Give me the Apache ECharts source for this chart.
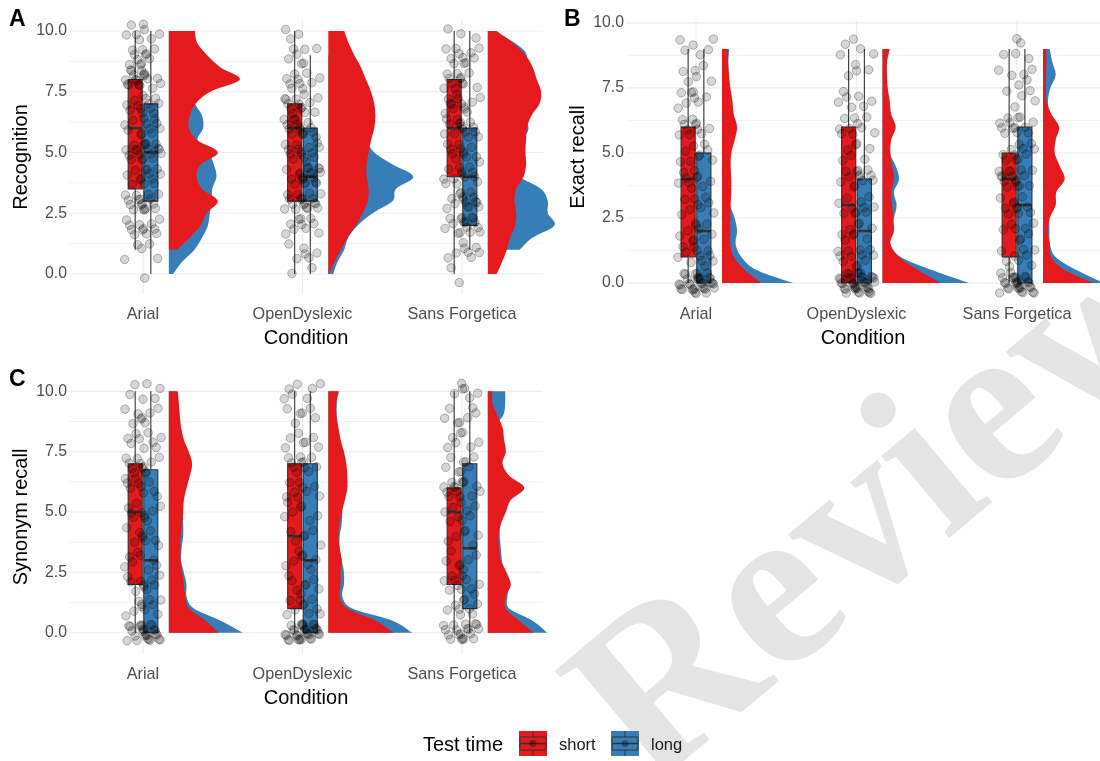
<!DOCTYPE html>
<html>
<head>
<meta charset="utf-8">
<title>Raincloud plots by condition and test time</title>
<script src="https://cdn.jsdelivr.net/npm/echarts@6/dist/echarts.min.js"></script>
<style>
  html, body { margin: 0; padding: 0; background: #fff; }
  #chart { width: 1100px; height: 761px; }
</style>
</head>
<body>
<div id="chart"></div>
<script>
// ---- data ----
var conditions = ["Arial", "OpenDyslexic", "Sans Forgetica"];
var testTimes = ["short", "long"];
var panelLetters = ["A", "B", "C"];
var measureTitles = ["Recognition", "Exact recall", "Synonym recall"];
var yTickValues = [0, 2.5, 5, 7.5, 10];
var yMinorValues = [1.25, 3.75, 6.25, 8.75];
var scoreValues = [0, 1, 2, 3, 4, 5, 6, 7, 8, 9, 10];
var densityAt = [0, 0.5, 1, 1.5, 2, 2.5, 3, 3.5, 4, 4.5, 5, 5.5, 6, 6.5, 7, 7.5, 8, 8.5, 9, 9.5, 10];

// A: Recognition  (counts per score 0..10, per condition)
var recCountShort = [[0,2,6,9,5,9,4,5,13,7,5], [1,3,5,8,6,7,10,9,7,5,3], [2,3,5,5,6,7,7,9,9,6,2]];
var recCountLong  = [[1,3,6,8,8,10,8,8,5,4,3], [1,3,5,11,14,8,6,5,3,2,0], [0,5,11,10,7,5,8,4,3,5,1]];
// box stats: lower whisker, Q1, median, Q3, upper whisker
var recBoxShort = [[1,3.5,6,8,10], [0,3,6,7,10], [0,4,6,8,10]];
var recBoxLong  = [[0,3,5,7,10], [0,3,4,6,9], [1,2,4,6,10]];
// half-violin density (x units / 100) at densityAt
var recDensShort = [
  [null,null,5.2,13.2,19.9,23.6,30.7,20.9,17.4,19.9,30.7,17.8,12.5,13.2,16.7,26,44.5,32.4,24,17.8,16.3],
  [0.6,3.8,7.9,12.1,17.3,21.5,24.7,25.3,24,24,25.3,26.8,28.8,29.5,28.8,26.8,23.6,20.5,16.3,12.7,10],
  [5.6,9,11.9,14,17.1,17.8,16.7,17.8,22.4,24,23.6,24,24.5,27.2,32.4,33.4,30.7,28.2,23.6,15.7,5.6]
];
var recDensLong = [
  [2.7,8.4,16.1,20.9,24.5,25.7,27,27.2,29.9,28.2,25,18,21.5,20.9,16.5,15,15,14,13,11,10],
  [3.1,5.8,10,12.5,18.4,27.8,40.3,42.4,53.3,40.3,28.8,24,22,20,17,14,11,8,5,null,null],
  [null,null,20,28.2,41.8,37.6,37.6,33.4,20,17,18,22,25.5,22,18,16,17,20,24.5,17,4]
];

// B: Exact recall
var exaCountShort = [[14,5,4,5,6,5,8,5,3,3,0], [17,6,5,5,6,4,7,4,2,3,0], [14,4,3,6,10,6,7,2,2,2,0]];
var exaCountLong  = [[20,7,6,4,4,4,3,3,3,3,0], [22,6,4,6,7,3,3,3,2,2,0], [16,5,5,5,6,5,6,3,4,3,0]];
var exaBoxShort = [[0,1,4,6,9], [0,0,3,6,9], [0,1,4,5,9]];
var exaBoxLong  = [[0,0,2,5,9], [0,0,2,4,9], [0,0,3,6,9]];
var exaDensShort = [
  [24.6,14.2,7.3,5.2,5.2,5.2,5.4,5.8,5.8,5.4,5.8,7.9,9.4,7.3,6.5,5.2,4.4,3.75,3.75,null,null],
  [36.1,22.2,10.3,4.9,7.1,6.7,6,5.4,7.1,6,4.9,5.4,8.2,5.4,4.5,3.2,2.8,2.8,4.5,null,null],
  [31.3,13.5,5.2,4.2,3.1,4.2,7.9,8.3,13.5,10.4,7.3,7.9,10,5.2,2.1,1.9,1.9,2.1,2.1,null,null]
];
var exaDensLong = [
  [44.4,21.5,12.1,8.5,9.4,7.9,5,4.5,4.5,4.5,4.5,4.5,4.5,4.5,4.5,4.2,4,4,4.5,null,null],
  [54,30.8,11.4,4.9,5,7.1,8.8,7.1,10.3,8.2,4.5,4.5,5,4.5,4,3,2.5,2.5,2.5,null,null],
  [38,20.8,7.9,4.3,4,4,5,6,6,6,5,5,5,4,3.1,4.6,7.9,5.8,4.2,null,null]
];

// C: Synonym recall
var synCountShort = [[9,4,5,4,4,6,6,8,5,4,3], [14,5,4,4,3,4,6,6,4,3,4], [8,4,6,3,3,5,10,4,4,3,2]];
var synCountLong  = [[17,6,5,4,5,4,4,4,4,4,3], [18,5,4,4,3,3,3,5,3,3,3], [11,5,5,4,3,4,4,4,3,4,4]];
var synBoxShort = [[0,2,5,7,10], [0,1,4,7,10], [0,2,5,6,10]];
var synBoxLong  = [[0,0,3,6.75,10], [0,0,3,7,10], [0,1,3.5,7,10]];
var synDensShort = [
  [31.3,23,12.5,10.4,9.4,8.4,7.3,7.3,7.3,8.4,9,9.4,11.1,13.2,14.6,12.5,9.4,7.7,6.9,6.3,5.6],
  [41.2,29.7,11.9,7.1,7.7,7.7,8.4,7.1,6.3,7.1,8.4,10.4,11.9,11.9,11.3,9.8,7.7,6.3,5,5,6.7],
  [29,19.6,11.3,11.3,14.4,11.7,8.2,7.1,6.7,8.2,11.3,14.4,22.8,13.4,9.2,11.3,10.2,9.2,6.1,2.9,2.9]
];
var synDensLong = [
  [46.6,32.4,15.7,11.1,11.1,9.4,7.7,8,9,9,8.5,8,7.5,7,6.5,6,5.5,5,5,4.5,4],
  [52.7,40.1,15,8.8,9.8,9.8,8.4,7.1,7.1,8.4,8.8,9,9.5,9.5,9,8,7,6,5.3,5.3,5.6],
  [37.4,28,13.4,12.3,13,10.5,8.8,8.2,7.5,7.5,8,8.5,8.5,8.5,8.5,7,5,4,9.6,10.9,10.9]
];

// ---- layout / style ----
var timeColors = ["#E41A1C", "#377EB8"];
var FONT = "Liberation Sans";
var panelRects = [
  { left: 69, top: 20, width: 474, height: 274 },
  { left: 626, top: 20, width: 474, height: 274 },
  { left: 69, top: 380, width: 474, height: 274 }
];
var xRanges = [[0.536, 3.508], [0.564, 3.517], [0.536, 3.508]];
var yRanges = [[-0.823, 10.45], [-0.42, 10.11], [-0.88, 10.47]];
var boxDodge = 0.049, boxWidth = 0.088, violinNudge = 0.162;
var jitterW = 0.066, jitterH = 0.4;

var panels = [
  { counts: [recCountShort, recCountLong], boxes: [recBoxShort, recBoxLong], dens: [recDensShort, recDensLong] },
  { counts: [exaCountShort, exaCountLong], boxes: [exaBoxShort, exaBoxLong], dens: [exaDensShort, exaDensLong] },
  { counts: [synCountShort, synCountLong], boxes: [synBoxShort, synBoxLong], dens: [synDensShort, synDensLong] }
];

function frac(v) { return v - Math.floor(v); }

function groupOffset(g) { return g === 0 ? -boxDodge : boxDodge; }

// jittered raw points (jitter is only a display offset)
function jitterPoints(countList, g, p) {
  var out = [];
  countList.forEach(function (counts, c) {
    var k = 0;
    counts.forEach(function (n, s) {
      for (var j = 0; j < n; j++, k++) {
        var u = frac(k * 0.6180339887 + 0.37 * c + 0.21 * g + 0.13 * p);
        var w = frac(k * 0.7548776662 + 0.53 * c + 0.29 * g + 0.41 * p);
        out.push([c + 1 + groupOffset(g) + (2 * u - 1) * jitterW, scoreValues[s] + (2 * w - 1) * jitterH]);
      }
    });
  });
  return out;
}

function catmullPath(pts) {
  var d = "";
  for (var i = 0; i < pts.length - 1; i++) {
    var p0 = pts[i - 1] || pts[i], p1 = pts[i], p2 = pts[i + 1], p3 = pts[i + 2] || pts[i + 1];
    var c1x = p1[0] + (p2[0] - p0[0]) / 6, c1y = p1[1] + (p2[1] - p0[1]) / 6;
    var c2x = p2[0] - (p3[0] - p1[0]) / 6, c2y = p2[1] - (p3[1] - p1[1]) / 6;
    d += " C" + c1x + "," + c1y + " " + c2x + "," + c2y + " " + p2[0] + "," + p2[1];
  }
  return d;
}

function violinRenderer(densList, color) {
  return function (params, api) {
    var c = params.dataIndex;
    var dens = densList[c];
    var x0 = c + 1 + violinNudge;
    var pts = [], vals = [];
    for (var i = 0; i < densityAt.length; i++) {
      if (dens[i] == null) continue;
      pts.push(api.coord([x0 + dens[i] / 100, densityAt[i]]));
      vals.push(densityAt[i]);
    }
    var b0 = api.coord([x0, vals[0]]);
    var b1 = api.coord([x0, vals[vals.length - 1]]);
    var d = "M" + b0[0] + "," + b0[1] + " L" + pts[0][0] + "," + pts[0][1] +
      catmullPath(pts) + " L" + b1[0] + "," + b1[1] + " Z";
    return { type: "path", shape: { pathData: d }, style: { fill: color, stroke: null } };
  };
}

function boxRenderer(boxLists) {
  return function (params, api) {
    var c = api.value(2), g = api.value(3);
    var st = boxLists[g][c];
    var x = c + 1 + groupOffset(g);
    var hw = boxWidth / 2;
    var top = api.coord([x - hw, st[3]]);
    var bot = api.coord([x + hw, st[1]]);
    var wHi = api.coord([x, st[4]]), wQ3 = api.coord([x, st[3]]);
    var wQ1 = api.coord([x, st[1]]), wLo = api.coord([x, st[0]]);
    var mL = api.coord([x - hw, st[2]]), mR = api.coord([x + hw, st[2]]);
    var line = { stroke: "#333333", lineWidth: 1.1 };
    return {
      type: "group",
      children: [
        { type: "line", shape: { x1: wHi[0], y1: wHi[1], x2: wQ3[0], y2: wQ3[1] }, style: line },
        { type: "line", shape: { x1: wQ1[0], y1: wQ1[1], x2: wLo[0], y2: wLo[1] }, style: line },
        { type: "rect", shape: { x: top[0], y: top[1], width: bot[0] - top[0], height: bot[1] - top[1] },
          style: { fill: timeColors[g], stroke: "#333333", lineWidth: 1.1 } },
        { type: "line", shape: { x1: mL[0], y1: mL[1], x2: mR[0], y2: mR[1] }, style: { stroke: "#333333", lineWidth: 2.6 } }
      ]
    };
  };
}

function gridRenderer(params, api) {
  var cs = params.coordSys;
  var kind = api.value(2);
  var pt = api.coord([api.value(0), api.value(1)]);
  if (kind === 2) {
    return { type: "line", shape: { x1: pt[0], y1: cs.y, x2: pt[0], y2: cs.y + cs.height },
      style: { stroke: "#ebebeb", lineWidth: 1.1 } };
  }
  return { type: "line", shape: { x1: cs.x, y1: pt[1], x2: cs.x + cs.width, y2: pt[1] },
    style: { stroke: "#ebebeb", lineWidth: kind === 0 ? 1.1 : 0.7 } };
}

var grids = [], xAxes = [], yAxes = [], series = [];
panels.forEach(function (pn, p) {
  var r = panelRects[p];
  grids.push({ left: r.left, top: r.top, width: r.width, height: r.height, outerBoundsMode: "none", containLabel: false });
  xAxes.push({
    gridIndex: p, type: "value", min: xRanges[p][0], max: xRanges[p][1],
    axisLine: { show: false }, axisTick: { show: false, customValues: [1, 2, 3] }, splitLine: { show: false },
    axisLabel: {
      customValues: [1, 2, 3], margin: 13, color: "#4d4d4d", fontSize: 16.2, fontFamily: FONT,
      formatter: function (v) { return conditions[Math.round(v) - 1]; }
    },
    name: "Condition", nameLocation: "middle", nameGap: 34,
    nameTextStyle: { color: "#000", fontSize: 20, fontFamily: FONT }
  });
  yAxes.push({
    gridIndex: p, type: "value", min: yRanges[p][0], max: yRanges[p][1],
    axisLine: { show: false }, axisTick: { show: false, customValues: yTickValues }, splitLine: { show: false },
    axisLabel: {
      customValues: yTickValues, margin: 2, color: "#4d4d4d", fontSize: 15.8, fontFamily: FONT,
      formatter: function (v) { return v.toFixed(1); }
    },
    name: measureTitles[p], nameLocation: "middle", nameGap: 38, nameRotate: 90,
    nameTextStyle: { color: "#000", fontSize: 20, fontFamily: FONT }
  });

  var gridData = [];
  yTickValues.forEach(function (v) { gridData.push([2, v, 0]); });
  yMinorValues.forEach(function (v) { gridData.push([2, v, 1]); });
  [1, 2, 3].forEach(function (x) { gridData.push([x, 5, 2]); });
  series.push({ type: "custom", xAxisIndex: p, yAxisIndex: p, z: 1, silent: true,
    renderItem: gridRenderer, data: gridData });

  // long (blue) behind short (red)
  [1, 0].forEach(function (g) {
    series.push({
      type: "custom", name: testTimes[g], xAxisIndex: p, yAxisIndex: p, z: g === 1 ? 2 : 3, silent: true,
      renderItem: violinRenderer(pn.dens[g], timeColors[g]),
      data: conditions.map(function (c, i) { return [i + 1, 5]; })
    });
  });

  var boxData = [];
  conditions.forEach(function (c, i) { boxData.push([i + 1, 5, i, 0]); boxData.push([i + 1, 5, i, 1]); });
  series.push({ type: "custom", xAxisIndex: p, yAxisIndex: p, z: 4, silent: true,
    renderItem: boxRenderer(pn.boxes), data: boxData });

  [0, 1].forEach(function (g) {
    series.push({
      type: "scatter", xAxisIndex: p, yAxisIndex: p, z: 5, silent: true,
      symbol: "circle", symbolSize: 8.5,
      itemStyle: { color: "rgba(0,0,0,0.2)", borderColor: "rgba(0,0,0,0.42)", borderWidth: 0.8 },
      data: jitterPoints(pn.counts[g], g, p)
    });
  });
});

// legend (drawn as graphics) + panel tags + watermark
function legendKey(x, color) {
  return {
    type: "group", x: x, y: 731, z: 10,
    children: [
      { type: "rect", shape: { x: 0, y: 0, width: 28, height: 25 }, style: { fill: color } },
      { type: "rect", shape: { x: 1, y: 6, width: 26, height: 13 }, style: { fill: null, stroke: "#333", lineWidth: 1 } },
      { type: "line", shape: { x1: 1, y1: 12.5, x2: 27, y2: 12.5 }, style: { stroke: "#333", lineWidth: 1.6 } },
      { type: "line", shape: { x1: 14, y1: 0, x2: 14, y2: 6 }, style: { stroke: "#333", lineWidth: 1 } },
      { type: "line", shape: { x1: 14, y1: 19, x2: 14, y2: 25 }, style: { stroke: "#333", lineWidth: 1 } },
      { type: "circle", shape: { cx: 14, cy: 12.5, r: 3.5 }, style: { fill: "rgba(0,0,0,0.35)" } }
    ]
  };
}

var graphics = [
  { type: "text", x: 887, y: 512, rotation: Math.PI * 40 / 180, z: -10, silent: true,
    style: { text: "Review", fontSize: 232, fontWeight: "bold", fontFamily: "Liberation Serif",
      fill: "#e4e4e4", align: "center", verticalAlign: "middle" } },
  { type: "text", x: 9, y: 8, z: 10, style: { text: panelLetters[0], fontSize: 23, fontWeight: "bold", fontFamily: FONT, fill: "#000" } },
  { type: "text", x: 564, y: 8, z: 10, style: { text: panelLetters[1], fontSize: 23, fontWeight: "bold", fontFamily: FONT, fill: "#000" } },
  { type: "text", x: 9, y: 368, z: 10, style: { text: panelLetters[2], fontSize: 23, fontWeight: "bold", fontFamily: FONT, fill: "#000" } },
  { type: "text", x: 423, y: 745, z: 10, style: { text: "Test time", fontSize: 20, fontFamily: FONT, fill: "#000", verticalAlign: "middle" } },
  legendKey(519, timeColors[0]),
  { type: "text", x: 559, y: 745, z: 10, style: { text: testTimes[0], fontSize: 16.5, fontFamily: FONT, fill: "#1a1a1a", verticalAlign: "middle" } },
  legendKey(611, timeColors[1]),
  { type: "text", x: 651, y: 745, z: 10, style: { text: testTimes[1], fontSize: 16.5, fontFamily: FONT, fill: "#1a1a1a", verticalAlign: "middle" } }
];

var chart = echarts.init(document.getElementById("chart"), null, { renderer: "canvas" });
chart.setOption({
  animation: false,
  backgroundColor: "#ffffff",
  textStyle: { fontFamily: FONT },
  grid: grids,
  xAxis: xAxes,
  yAxis: yAxes,
  series: series,
  graphic: graphics
});
</script>
</body>
</html>
